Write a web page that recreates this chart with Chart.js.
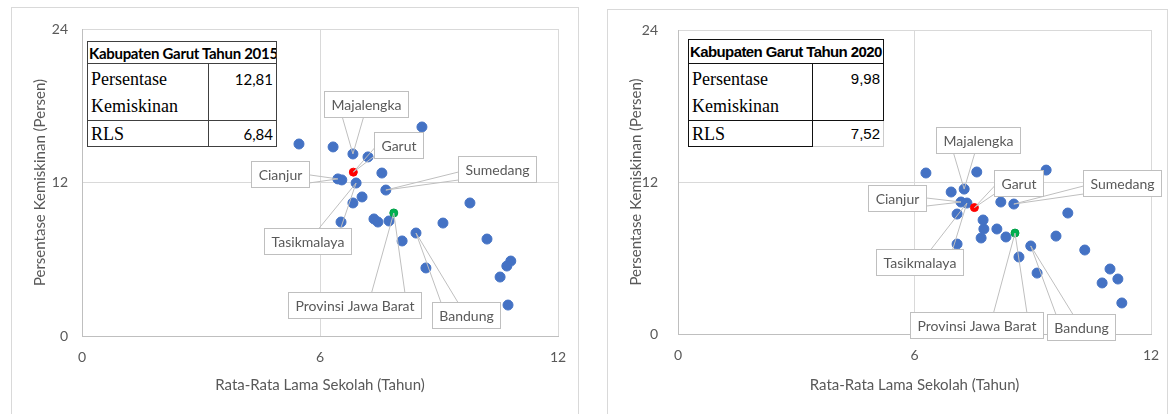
<!DOCTYPE html>
<html>
<head>
<meta charset="utf-8">
<script src="https://cdn.jsdelivr.net/npm/chart.js@4.4.0/dist/chart.umd.min.js"></script>
<style>
  body { margin: 0; background: #fff; width: 1169px; height: 414px; overflow: hidden; position: relative; }
  .frame { position: absolute; border: 1px solid #d9d9d9; box-sizing: border-box; }
  canvas { position: absolute; }
  table.info { position: absolute; border-collapse: collapse; background: #fff; color: #000; table-layout: fixed; }
  table.info td { border: 1px solid #404040; padding: 0 3px; vertical-align: top; }
  table.info .head { font: bold 15px Lato, sans-serif; white-space: nowrap; overflow: hidden; padding: 0 1px; vertical-align: middle; letter-spacing: -0.3px; }
  table.info .lbl { font: 18px "Liberation Serif", serif; line-height: 27px; padding-top: 2px; }
  table.info .val { font: 15px Lato, sans-serif; text-align: right; line-height: 30px; }
  table.info .mid { vertical-align: middle; line-height: 24px; padding-top: 0; }
  table.y2020 td { border: 1.5px solid #111; }
  table.y2020 .head { font-family: "Liberation Sans Narrow", "Liberation Sans", sans-serif; font-size: 15px; letter-spacing: -0.6px; }
  table.y2020 .val { font-family: "Liberation Sans", sans-serif; font-size: 15px; }
</style>
</head>
<body>
<div class="frame" style="left:11px;top:7px;width:568px;height:420px"></div>
<div class="frame" style="left:607px;top:9px;width:561px;height:420px"></div>
<canvas id="c2015" width="568" height="407" style="left:11px;top:7px"></canvas>
<canvas id="c2020" width="560" height="405" style="left:607px;top:9px"></canvas>

<table class="info" style="left:87px;top:41px;width:189px">
  <colgroup><col style="width:121px"><col style="width:68px"></colgroup>
  <tr style="height:22px"><td colspan="2" class="head">Kabupaten Garut Tahun 2015</td></tr>
  <tr style="height:54px"><td class="lbl">Persentase<br>Kemiskinan</td><td class="val">12,81</td></tr>
  <tr style="height:26px"><td class="lbl mid">RLS</td><td class="val mid">6,84</td></tr>
</table>

<table class="info y2020" style="left:688px;top:39px;width:195px">
  <colgroup><col style="width:124px"><col style="width:71px"></colgroup>
  <tr style="height:24px"><td colspan="2" class="head">Kabupaten Garut Tahun 2020</td></tr>
  <tr style="height:55px"><td class="lbl">Persentase<br>Kemiskinan</td><td class="val">9,98</td></tr>
  <tr style="height:26px"><td class="lbl mid">RLS</td><td class="val mid" style="border-color:#ccc">7,52</td></tr>
</table>

<script>
const xTicks = [0, 6, 12];
const yTicks = [0, 12, 24];
const xTitle = "Rata-Rata Lama Sekolah (Tahun)";
const yTitle = "Persentase Kemiskinan (Persen)";

// 2015 - kabupaten/kota
const rls2015 = [5.47, 6.33, 6.83, 7.21, 8.57, 7.56, 6.45, 6.55, 6.91, 7.66, 7.06, 6.83, 9.78,
  7.36, 7.46, 7.74, 6.53, 9.10, 8.42, 8.07, 10.21, 10.81, 10.71, 8.67, 10.54, 10.74];
const miskin2015 = [15.01, 14.78, 14.23, 14.00, 16.34, 12.74, 12.28, 12.20, 11.96, 11.41, 10.87, 10.40, 10.40,
  9.15, 8.91, 8.99, 8.91, 8.83, 8.05, 7.43, 7.58, 5.86, 5.47, 5.32, 4.61, 2.42];
const nama2015 = ["", "", "Majalengka", "", "", "", "Cianjur", "", "Tasikmalaya", "Sumedang", "", "", "",
  "", "", "", "", "", "Bandung", "", "", "", "", "", "", ""];
const garutRls2015 = [6.84];
const garutMiskin2015 = [12.81];
const jabarRls2015 = [7.86];
const jabarMiskin2015 = [9.62];

// 2020 - kabupaten/kota
const rls2020 = [6.29, 7.58, 9.34, 6.93, 7.26, 7.18, 7.33, 8.19, 8.52, 7.08, 9.89, 7.74, 7.76,
  7.69, 8.09, 8.32, 7.08, 9.59, 8.95, 8.65, 10.32, 9.11, 10.96, 11.16, 10.76, 11.26];
const miskin2020 = [12.71, 12.79, 12.94, 11.21, 11.44, 10.42, 10.34, 10.42, 10.26, 9.47, 9.55, 9.00, 8.29,
  7.58, 8.29, 7.66, 7.10, 7.73, 6.95, 6.08, 6.63, 4.81, 5.13, 4.34, 4.03, 2.45];
const nama2020 = ["", "", "", "", "Majalengka", "Cianjur", "Tasikmalaya", "", "Sumedang", "", "", "", "",
  "", "", "", "", "", "Bandung", "", "", "", "", "", "", ""];
const garutRls2020 = [7.52];
const garutMiskin2020 = [9.98];
const jabarRls2020 = [8.55];
const jabarMiskin2020 = [7.97];

// posisi kotak label relatif ke titik (px)
const offsets2015 = {
  "Majalengka": [13, -50], "Garut": [45, -27], "Cianjur": [-58, -5], "Sumedang": [111, -21],
  "Tasikmalaya": [-49, 58], "Provinsi Jawa Barat": [-39, 92], "Bandung": [50, 82]
};
const offsets2020 = {
  "Majalengka": [14, -49], "Garut": [44, -25], "Cianjur": [-64, -4], "Sumedang": [108, -21],
  "Tasikmalaya": [-47, 59], "Provinsi Jawa Barat": [-39, 92], "Bandung": [50, 81]
};

function drawCallout(ctx, text, px, py, off) {
  const w = Math.round(ctx.measureText(text).width + 14);
  const h = 26;
  const l = Math.round(px + off[0] - w / 2) + 0.5, t = Math.round(py + off[1] - h / 2) + 0.5;
  const r = l + w, b = t + h;
  const hx = Math.max(l - px, px - r, 0), vy = Math.max(t - py, py - b, 0);
  let a, c;
  if (vy >= hx) {
    const ey = py < t ? t : b;
    const m = Math.min(Math.max(px, l + w * 0.25), r - w * 0.25);
    a = [m - w * 0.125, ey]; c = [m + w * 0.125, ey];
  } else {
    const ex = px < l ? l : r;
    const m = Math.min(Math.max(py, t + h * 0.25), b - h * 0.25);
    a = [ex, m - 4]; c = [ex, m + 4];
  }
  ctx.strokeStyle = "#bfbfbf";
  ctx.lineWidth = 1;
  ctx.beginPath();
  ctx.moveTo(a[0], a[1]); ctx.lineTo(px, py); ctx.lineTo(c[0], c[1]);
  ctx.stroke();
  ctx.fillStyle = "#fff";
  ctx.fillRect(l, t, w, h);
  ctx.strokeRect(l, t, w, h);
  ctx.fillStyle = "#595959";
  ctx.textAlign = "center";
  ctx.textBaseline = "middle";
  ctx.fillText(text, l + w / 2, t + h / 2 + 1);
}

const calloutPlugin = {
  id: "callouts",
  afterDatasetsDraw(chart, args, opts) {
    const ctx = chart.ctx;
    ctx.save();
    ctx.font = "14px Lato";
    chart.data.datasets.forEach((ds, di) => {
      const meta = chart.getDatasetMeta(di);
      (ds.names || []).forEach((name, i) => {
        if (!name || !opts.offsets[name]) return;
        const pt = meta.data[i];
        drawCallout(ctx, name, pt.x, pt.y, opts.offsets[name]);
      });
    });
    ctx.restore();
  }
};

function toPoints(xs, ys) {
  return xs.map((x, i) => ({ x: x, y: ys[i] }));
}

function buildChart(id, d) {
  const tickFont = { family: "Lato", size: 14 };
  const titleFont = { family: "Lato", size: 15 };
  new Chart(document.getElementById(id), {
    type: "scatter",
    data: {
      datasets: [
        { data: toPoints(d.rls, d.miskin), names: d.names, order: 1,
          backgroundColor: "#4472c4", borderColor: "#4472c4", pointRadius: 5 },
        { data: toPoints(d.garutRls, d.garutMiskin), names: ["Garut"], order: 0,
          backgroundColor: "#ff0000", borderColor: "#ff0000", pointRadius: 4 },
        { data: toPoints(d.jabarRls, d.jabarMiskin), names: ["Provinsi Jawa Barat"], order: 0,
          backgroundColor: "#00b050", borderColor: "#00a048", pointRadius: 4 }
      ]
    },
    options: {
      responsive: false,
      animation: false,
      events: [],
      layout: { padding: d.pad },
      plugins: {
        legend: { display: false },
        tooltip: { enabled: false },
        callouts: { offsets: d.offsets }
      },
      scales: {
        x: {
          type: "linear", min: 0, max: 12,
          afterBuildTicks: (s) => { s.ticks = xTicks.map((v) => ({ value: v })); },
          afterFit: (s) => { s.height = d.xAxisH; s.paddingLeft = 0; s.paddingRight = 0; },
          grid: { color: "#d9d9d9", drawTicks: false },
          border: { color: "#bfbfbf" },
          ticks: { color: "#595959", font: tickFont, padding: d.xTickPad },
          title: { display: true, text: xTitle, color: "#595959", font: titleFont, padding: { top: 0, bottom: 20 } }
        },
        y: {
          type: "linear", min: 0, max: 24,
          afterBuildTicks: (s) => { s.ticks = yTicks.map((v) => ({ value: v })); },
          afterFit: (s) => { s.width = 71; s.paddingTop = 0; s.paddingBottom = 0; },
          grid: { color: "#d9d9d9", drawTicks: false },
          border: { color: "#bfbfbf" },
          ticks: { color: "#595959", font: tickFont, padding: d.yTickPad },
          title: { display: true, text: yTitle, color: "#595959", font: titleFont, padding: { top: 20, bottom: 0 } }
        }
      }
    },
    plugins: [calloutPlugin]
  });
}

document.fonts.load("14px Lato").then(() => {
  buildChart("c2015", {
    rls: rls2015, miskin: miskin2015, names: nama2015,
    garutRls: garutRls2015, garutMiskin: garutMiskin2015,
    jabarRls: jabarRls2015, jabarMiskin: jabarMiskin2015,
    offsets: offsets2015,
    pad: { left: 0, top: 22, right: 21, bottom: 0 },
    xAxisH: 78, xTickPad: 13, yTickPad: 14
  });
  buildChart("c2020", {
    rls: rls2020, miskin: miskin2020, names: nama2020,
    garutRls: garutRls2020, garutMiskin: garutMiskin2020,
    jabarRls: jabarRls2020, jabarMiskin: jabarMiskin2020,
    offsets: offsets2020,
    pad: { left: 0, top: 21, right: 16, bottom: 0 },
    xAxisH: 80, xTickPad: 13, yTickPad: 20
  });
});
</script>
</body>
</html>
